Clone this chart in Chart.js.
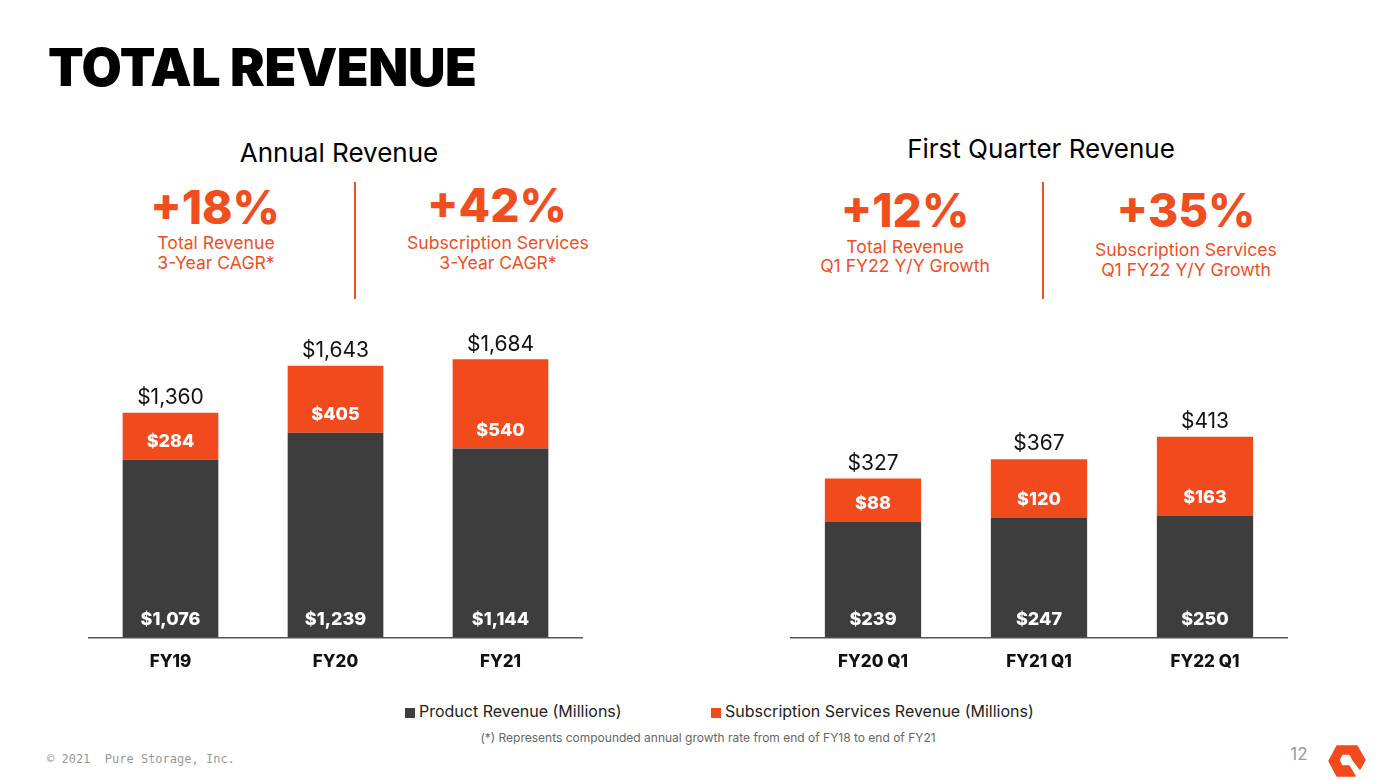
<!DOCTYPE html>
<html>
<head>
<meta charset="utf-8">
<script src="https://cdn.jsdelivr.net/npm/chart.js@4"></script>
<style>
  body { margin: 0; width: 1392px; height: 780px; background: #fff; position: relative; overflow: hidden; font-family: Inter, "Noto Sans", sans-serif; }
  .t { position: absolute; white-space: nowrap; line-height: 1; transform: translate(-50%, -50%); }
  .orange { color: #f04e1f; }
  .big { font-size: 46px; font-weight: 800; }
  .sub { font-size: 17.6px; }
  .vline { position: absolute; width: 2px; background: #f04e1f; }
  .box { position: absolute; }
  .leg { position: absolute; font-size: 16px; color: #222; line-height: 1; transform: translateY(-50%); white-space: nowrap; }
  .sq { display: inline-block; width: 10px; height: 10px; margin-right: 4px; vertical-align: -1px; }
</style>
</head>
<body>
<div class="t" style="left:48px; top:68px; transform:translateY(-50%); font-size:52px; font-weight:900; letter-spacing:-0.4px;">TOTAL REVENUE</div>

<div class="t" style="left:339px; top:153px; font-size:26px;">Annual Revenue</div>
<div class="t orange big" style="left:215px; top:207px;">+18%</div>
<div class="t orange sub" style="left:216px; top:243px;">Total Revenue</div>
<div class="t orange sub" style="left:216px; top:263px;">3-Year CAGR*</div>
<div class="vline" style="left:354px; top:182px; height:117px;"></div>
<div class="t orange big" style="left:497px; top:205px;">+42%</div>
<div class="t orange sub" style="left:498px; top:243px;">Subscription Services</div>
<div class="t orange sub" style="left:498px; top:263px;">3-Year CAGR*</div>

<div class="t" style="left:1041px; top:149px; font-size:26px;">First Quarter Revenue</div>
<div class="t orange big" style="left:905px; top:210px;">+12%</div>
<div class="t orange sub" style="left:905px; top:247px;">Total Revenue</div>
<div class="t orange sub" style="left:905px; top:266px;">Q1 FY22 Y/Y Growth</div>
<div class="vline" style="left:1042px; top:182px; height:117px;"></div>
<div class="t orange big" style="left:1186px; top:210px;">+35%</div>
<div class="t orange sub" style="left:1186px; top:250px;">Subscription Services</div>
<div class="t orange sub" style="left:1186px; top:270px;">Q1 FY22 Y/Y Growth</div>

<div class="box" style="left:88px; top:300px; width:495px; height:386px;"><canvas id="annual"></canvas></div>
<div class="box" style="left:790px; top:300px; width:498px; height:386px;"><canvas id="quarter"></canvas></div>

<div class="leg" style="left:405px; top:711px;"><span class="sq" style="background:#3d3d3d"></span>Product Revenue (Millions)</div>
<div class="leg" style="left:711px; top:711px;"><span class="sq" style="background:#f14b1d"></span>Subscription Services Revenue (Millions)</div>
<div class="t" style="left:708px; top:738px; font-size:12px; color:#666;">(*) Represents compounded annual growth rate from end of FY18 to end of FY21</div>

<div class="t" style="left:47px; top:759px; transform:translateY(-50%); font-family:'DejaVu Sans Mono', monospace; font-size:12px; color:#999;">© 2021&nbsp; Pure Storage, Inc.</div>
<div class="t" style="left:1299px; top:754px; font-size:17px; color:#999;">12</div>
<svg style="position:absolute; left:1328px; top:745px;" width="38" height="32" viewBox="-1 -1 38 32">
  <path d="M8,0 L28,0 L36,14 L31,23 L24,14 L21,8 L13,8 L10,14 L13,20 L20,20 L26,30 L8,30 L0,15 Z" fill="#f14b1d" stroke="#f14b1d" stroke-width="1.5" stroke-linejoin="round"/>
</svg>

<script>
const annualLabels = ['FY19', 'FY20', 'FY21'];
const annualProduct = [1076, 1239, 1144];
const annualSubscription = [284, 405, 540];
const annualTotal = [1360, 1643, 1684];

const quarterLabels = ['FY20 Q1', 'FY21 Q1', 'FY22 Q1'];
const quarterProduct = [239, 247, 250];
const quarterSubscription = [88, 120, 163];
const quarterTotal = [327, 367, 413];

const DARK = '#3d3d3d';
const ORANGE = '#f14b1d';

function money(v) {
  return '$' + v.toLocaleString('en-US');
}

// values inside each segment near its base, totals above the stack
const barLabels = {
  id: 'barLabels',
  afterDatasetsDraw(chart, args, opts) {
    const ctx = chart.ctx;
    ctx.save();
    ctx.textAlign = 'center';
    ctx.textBaseline = 'middle';
    chart.data.datasets.forEach((ds, i) => {
      const meta = chart.getDatasetMeta(i);
      meta.data.forEach((bar, j) => {
        ctx.fillStyle = '#fff';
        ctx.font = '800 18px Inter';
        ctx.fillText(money(ds.data[j]), bar.x, bar.base - 18);
      });
    });
    const top = chart.getDatasetMeta(chart.data.datasets.length - 1);
    top.data.forEach((bar, j) => {
      ctx.fillStyle = '#111';
      ctx.font = '21px Inter';
      ctx.fillText(money(opts.totals[j]), bar.x, bar.y - 15);
    });
    ctx.restore();
  }
};

function makeChart(id, labels, product, subscription, totals, yMax) {
  new Chart(document.getElementById(id), {
    type: 'bar',
    data: {
      labels: labels,
      datasets: [
        { label: 'Product Revenue (Millions)', data: product, backgroundColor: DARK },
        { label: 'Subscription Services Revenue (Millions)', data: subscription, backgroundColor: ORANGE }
      ]
    },
    options: {
      responsive: true,
      maintainAspectRatio: false,
      animation: false,
      layout: { padding: { top: 7, left: 0, right: 0, bottom: 0 } },
      datasets: { bar: { categoryPercentage: 1, barPercentage: 0.58 } },
      scales: {
        x: {
          stacked: true,
          grid: { display: false, drawTicks: false },
          border: { display: true, color: '#555', width: 1.5 },
          ticks: { color: '#111', padding: 14, font: { family: 'Inter', size: 17, weight: '800' } }
        },
        y: { stacked: true, display: false, min: 0, max: yMax }
      },
      plugins: {
        legend: { display: false },
        tooltip: { enabled: false },
        barLabels: { totals: totals }
      }
    },
    plugins: [barLabels]
  });
}

makeChart('annual', annualLabels, annualProduct, annualSubscription, annualTotal, 2000);
makeChart('quarter', quarterLabels, quarterProduct, quarterSubscription, quarterTotal, 680);
</script>
</body>
</html>
